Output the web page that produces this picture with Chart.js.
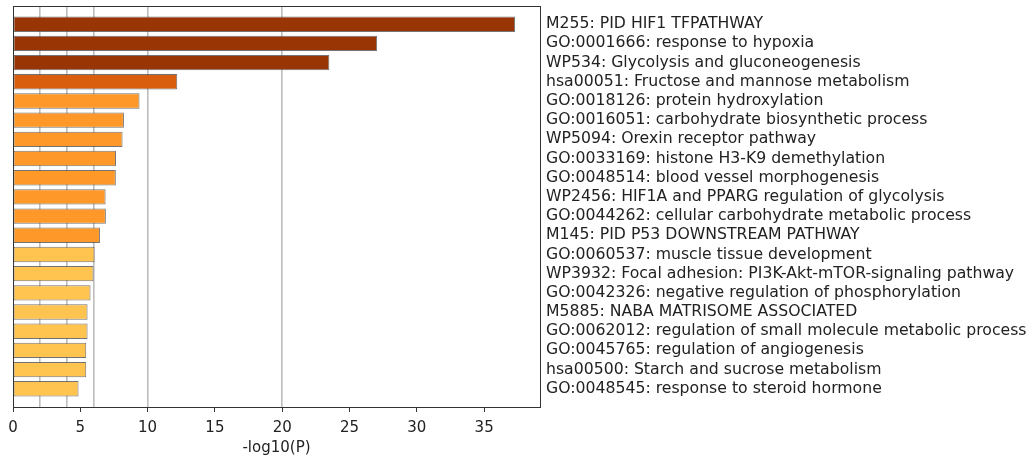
<!DOCTYPE html>
<html>
<head>
<meta charset="utf-8">
<script src="https://cdn.jsdelivr.net/npm/chart.js@4"></script>
<style>
  html, body { margin: 0; padding: 0; background: #fff; }
  #wrap { width: 1034px; height: 459px; }
</style>
</head>
<body>
<div id="wrap"><canvas id="enrichChart" width="1034" height="459"></canvas></div>
<script>
const terms = [
  'M255: PID HIF1 TFPATHWAY',
  'GO:0001666: response to hypoxia',
  'WP534: Glycolysis and gluconeogenesis',
  'hsa00051: Fructose and mannose metabolism',
  'GO:0018126: protein hydroxylation',
  'GO:0016051: carbohydrate biosynthetic process',
  'WP5094: Orexin receptor pathway',
  'GO:0033169: histone H3-K9 demethylation',
  'GO:0048514: blood vessel morphogenesis',
  'WP2456: HIF1A and PPARG regulation of glycolysis',
  'GO:0044262: cellular carbohydrate metabolic process',
  'M145: PID P53 DOWNSTREAM PATHWAY',
  'GO:0060537: muscle tissue development',
  'WP3932: Focal adhesion: PI3K-Akt-mTOR-signaling pathway',
  'GO:0042326: negative regulation of phosphorylation',
  'M5885: NABA MATRISOME ASSOCIATED',
  'GO:0062012: regulation of small molecule metabolic process',
  'GO:0045765: regulation of angiogenesis',
  'hsa00500: Starch and sucrose metabolism',
  'GO:0048545: response to steroid hormone'
];

const logP = [37.3, 27.05, 23.5, 12.2, 9.4, 8.24, 8.14, 7.65, 7.64, 6.88,
  6.9, 6.46, 6.06, 5.98, 5.76, 5.54, 5.54, 5.44, 5.44, 4.87];

const xTicks = [0, 5, 10, 15, 20, 25, 30, 35];
const thresholds = [2, 4, 6, 10, 20];

// colour tier of each bar, top to bottom
const barColors = [
  '#993404', '#993404', '#993404', '#d95f0e',
  '#fe9929', '#fe9929', '#fe9929', '#fe9929', '#fe9929', '#fe9929', '#fe9929', '#fe9929',
  '#fec44f', '#fec44f', '#fec44f', '#fec44f', '#fec44f', '#fec44f', '#fec44f', '#fec44f'
];

Chart.defaults.font.family = "'DejaVu Sans', sans-serif";
Chart.defaults.color = '#222';

// keep tick-label padding from shrinking the plot box
const noPad = (scale) => {
  scale.paddingTop = 0;
  scale.paddingBottom = 0;
  scale.paddingLeft = 0;
  scale.paddingRight = 0;
};

const frame = {
  id: 'frame',
  afterDraw(chart) {
    const { ctx, chartArea: a } = chart;
    ctx.save();
    ctx.strokeStyle = '#333';
    ctx.lineWidth = 1;
    ctx.strokeRect(Math.round(a.left) + 0.5, Math.round(a.top) + 0.5,
      Math.round(a.right - a.left), Math.round(a.bottom - a.top));
    ctx.restore();
  }
};

new Chart(document.querySelector('#enrichChart'), {
  type: 'bar',
  data: {
    datasets: [{
      data: logP.map((v, i) => ({ x: v, y: i })),
      backgroundColor: barColors,
      borderColor: 'rgba(70,70,70,0.75)',
      borderWidth: 1,
      borderSkipped: false,
      barPercentage: 1,
      categoryPercentage: 0.8
    }]
  },
  options: {
    indexAxis: 'y',
    responsive: false,
    animation: false,
    devicePixelRatio: 1,
    layout: { padding: { left: 13, top: 6, right: 0, bottom: 0 } },
    plugins: { legend: { display: false }, tooltip: { enabled: false } },
    scales: {
      x: {
        type: 'linear',
        position: 'bottom',
        min: 0,
        max: 39.15,
        afterBuildTicks: (scale) => { scale.ticks = xTicks.map((v) => ({ value: v })); },
        grid: { drawOnChartArea: false, drawTicks: true, tickLength: 5, tickColor: '#333', tickWidth: 1 },
        border: { display: false },
        ticks: { font: { size: 15 }, padding: 7, maxRotation: 0 },
        title: { display: true, text: '-log10(P)', font: { size: 15 }, padding: { top: 0, bottom: 2 } },
        afterFit: (scale) => { scale.height = 52; noPad(scale); }
      },
      x2: {
        type: 'linear',
        position: 'bottom',
        min: 0,
        max: 39.15,
        afterBuildTicks: (scale) => { scale.ticks = thresholds.map((v) => ({ value: v })); },
        grid: { color: '#bdbdbd', lineWidth: 1.6, drawTicks: false },
        border: { display: false },
        ticks: { display: false },
        afterFit: (scale) => { scale.height = 0; noPad(scale); }
      },
      y: {
        type: 'linear',
        position: 'right',
        reverse: true,
        offset: false,
        min: -0.95,
        max: 19.95,
        afterBuildTicks: (scale) => { scale.ticks = terms.map((_, i) => ({ value: i })); },
        grid: { display: false, drawTicks: false, offset: false },
        border: { display: false },
        ticks: {
          callback: (v) => terms[v],
          font: { size: 15.7 },
          padding: 6,
          autoSkip: false
        },
        afterFit: (scale) => { scale.width = 494; noPad(scale); }
      }
    }
  },
  plugins: [frame]
});
</script>
</body>
</html>
